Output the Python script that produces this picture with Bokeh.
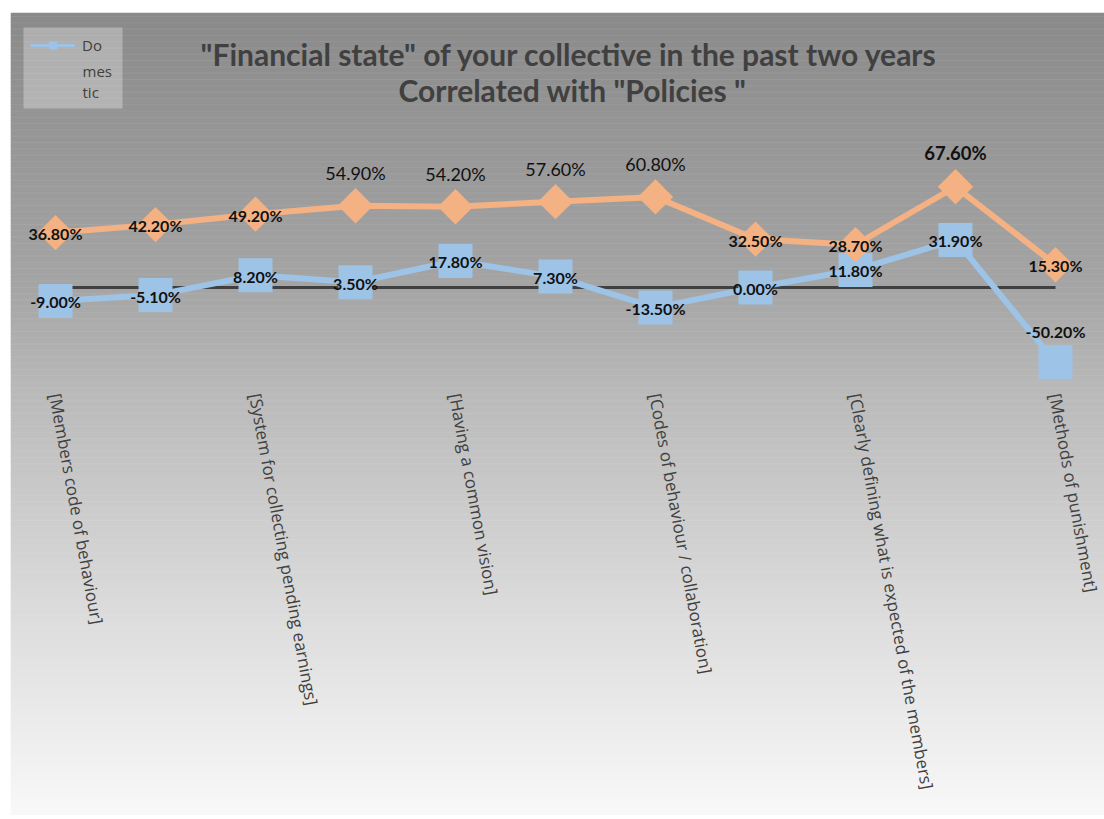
import math
from bokeh.plotting import figure
from bokeh.models import ColumnDataSource, Label, Legend, LegendItem, Range1d, BoxAnnotation
from bokeh.core.properties import value
from bokeh.embed import file_html
from bokeh.resources import INLINE

# ---------------- data ----------------
categories = [
    "[Members code of behaviour]", "",
    "[System for collecting pending earnings]", "",
    "[Having a common vision]", "",
    "[Codes of behaviour / collaboration]", "",
    "[Clearly defining what is expected of the members]", "",
    "[Methods of punishment]",
]
domestic = [-9.0, -5.1, 8.2, 3.5, 17.8, 7.3, -13.5, 0.0, 11.8, 31.9, -50.2]
other = [36.8, 42.2, 49.2, 54.9, 54.2, 57.6, 60.8, 32.5, 28.7, 67.6, 15.3]
title_lines = ['"Financial state" of your collective in the past two years',
               'Correlated with "Policies "']
legend_parts = ["Do", "mes", "tic"]   # the legend label "Domestic", wrapped

# ---------------- layout constants (page pixels) ----------------
W, H = 1104, 815
X0_PX, DX_PX = 55.0, 100.0      # page x of first category, px per category
Y0_PX, DY_PX = 287.0, 1.49      # page y of zero, px per percent
FR_L, FR_T = 10.0, 12.0
FR_R, FR_B = float(W), float(H)

def dx(px):
    return (px - X0_PX) / DX_PX

def dy(py):
    return (Y0_PX - py) / DY_PX

FONT = "Lato"
AXFONT = "Open Sans"
BLUE = "#9DC3E6"
ORANGE = "#F4B183"
DARK = "#404040"

idx = list(range(len(categories)))

p = figure(width=W, height=H, title=None,
           x_range=Range1d(dx(FR_L), dx(FR_R)), y_range=Range1d(dy(FR_B), dy(FR_T)),
           x_axis_type=None, y_axis_type=None,
           min_border_left=int(FR_L), min_border_top=int(FR_T),
           min_border_right=0, min_border_bottom=0,
           border_fill_color="white", outline_line_color=None,
           toolbar_location=None, output_backend="svg")
p.grid.visible = False

# ---------------- gradient background ----------------
stops = [(12, 138), (290, 165), (390, 185), (600, 218), (819, 249)]
def shade(py):
    for (a, ca), (b, cb) in zip(stops[:-1], stops[1:]):
        if a <= py <= b:
            t = (py - a) / (b - a)
            return ca + t * (cb - ca)
    return stops[-1][1]

tops, bots, cols = [], [], []
step = 3
py = FR_T
while py < FR_B:
    tops.append(dy(py))
    bots.append(dy(min(py + step + 1, FR_B)))   # overlap to avoid seams
    c = int(round(shade(py + step / 2)))
    cols.append("#%02x%02x%02x" % (c, c, c))
    py += step
p.quad(left=dx(FR_L), right=dx(FR_R), top=tops, bottom=bots,
       fill_color=cols, line_color=None)

# faint texture stripes
sy = []
py = FR_T + 4
while py < 640:
    sy.append(dy(py))
    py += 6.3
p.segment(x0=dx(FR_L), x1=dx(FR_R), y0=sy, y1=sy, line_color="white",
          line_alpha=0.07, line_width=1)

# ---------------- zero line ----------------
p.line(x=[idx[0], idx[-1]], y=[0, 0], line_color=DARK, line_width=3)

# ---------------- series ----------------
lg_line = p.line(idx, domestic, line_color=BLUE, line_width=3)
p.line(idx, domestic, line_color=BLUE, line_width=6)
d_mark = p.scatter(idx, domestic, marker="square", size=34, fill_color=BLUE, line_color=None)

p.line(idx, other, line_color=ORANGE, line_width=6)
p.scatter(idx, other, marker="square", angle=math.pi / 4, size=25,
          fill_color=ORANGE, line_color=None)

# ---------------- data labels ----------------
def fmt(v):
    return "%.2f%%" % v

above_normal_o = [3, 4, 5, 6]
above_bold_o = [9]
above_bold_d = [10]

def add_labels(series, which, yoff, size, style):
    src = ColumnDataSource(dict(x=[idx[i] for i in which],
                                y=[series[i] for i in which],
                                t=[fmt(series[i]) for i in which]))
    p.text(x="x", y="y", text="t", source=src, y_offset=yoff,
           text_align="center", text_baseline="middle",
           text_font=value(FONT), text_font_size=size,
           text_font_style=style, text_color="#111111")

on_o = [i for i in idx if i not in above_normal_o + above_bold_o]
on_d = [i for i in idx if i not in above_bold_d]
add_labels(other, on_o, 1, "16px", "bold")
add_labels(other, above_normal_o, -33, "18px", "normal")
add_labels(other, above_bold_o, -34, "18.5px", "bold")
add_labels(domestic, on_d, 1, "16px", "bold")
add_labels(domestic, above_bold_d, -31, "16px", "bold")

# ---------------- category labels ----------------
lab_idx = [i for i in idx if categories[i]]
csrc = ColumnDataSource(dict(x=lab_idx, t=[categories[i] for i in lab_idx]))
p.text(x="x", y=dy(393), text="t", source=csrc, angle=-1.39,
       text_align="left", text_baseline="middle",
       text_font=value(AXFONT), text_font_size="17px", text_color=DARK)

# ---------------- title ----------------
p.add_layout(Label(x=dx(569), y=dy(53), text=title_lines[0], text_align="center",
                   text_baseline="middle", text_font=FONT, text_font_size="30px",
                   text_font_style="bold", text_color=DARK))
p.add_layout(Label(x=dx(572), y=dy(89), text=title_lines[1], text_align="center",
                   text_baseline="middle", text_font=FONT, text_font_size="30px",
                   text_font_style="bold", text_color=DARK))

# ---------------- legend ----------------
p.add_layout(BoxAnnotation(left=dx(23), right=dx(122), top=dy(27), bottom=dy(108),
                           fill_color="white", fill_alpha=0.3, line_color=None,
                           level="annotation"))
fr_h = FR_B - FR_T
legend = Legend(items=[LegendItem(label=legend_parts[0], renderers=[lg_line, d_mark])],
                location=(20, int(fr_h - (55 - FR_T))), orientation="vertical",
                background_fill_alpha=0.0, border_line_color=None,
                padding=0, margin=0, spacing=0,
                glyph_width=45, glyph_height=20, label_height=20, label_standoff=7,
                label_text_font=AXFONT, label_text_font_size="15px",
                label_text_color=DARK)
p.add_layout(legend, "center")
for k, part in enumerate(legend_parts[1:]):
    p.add_layout(Label(x=dx(82), y=dy(70 + 21 * k), text=part, text_align="left",
                       text_baseline="middle", text_font=AXFONT,
                       text_font_size="15px", text_color=DARK))

open("out.html", "w").write(file_html(p, INLINE))
